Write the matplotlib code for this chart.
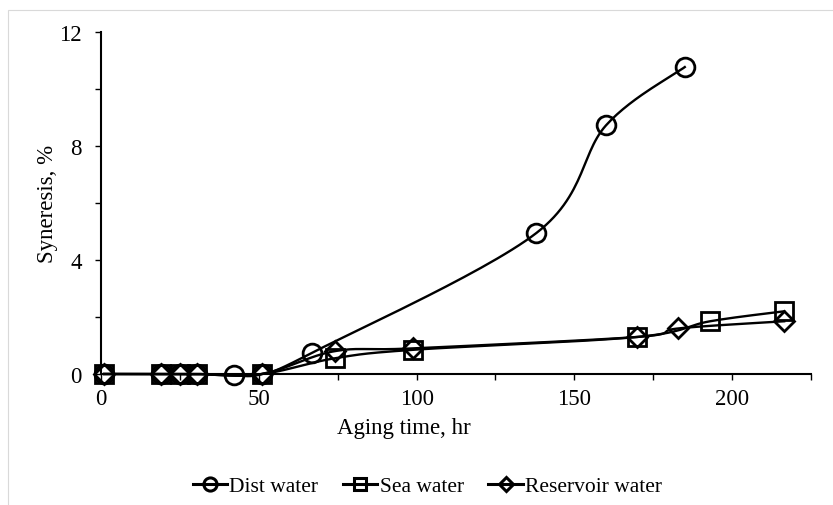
import numpy as np
import matplotlib
matplotlib.use("Agg")
import matplotlib.pyplot as plt
from matplotlib.patches import Rectangle
from matplotlib.lines import Line2D

plt.rcParams['font.family'] = ['Liberation Serif', 'DejaVu Serif']

# aging time (hr) and syneresis (%)
dist_t = [1, 19, 25, 30.5, 42, 51, 67, 138, 160, 185]
dist_s = [0, 0, 0, 0, -0.05, 0, 0.75, 4.95, 8.72, 10.77]

sea_t = [1, 19, 25, 30.5, 51, 74, 99, 170, 193, 216.5]
sea_s = [0, 0, 0, 0, 0, 0.55, 0.85, 1.3, 1.85, 2.2]

res_t = [1, 19, 25, 30.5, 51, 74, 99, 170, 183, 216.5]
res_s = [0, 0, 0, 0, 0, 0.8, 0.9, 1.3, 1.6, 1.85]

labels = ['Dist water', 'Sea water', 'Reservoir water']


def smooth(x, y, n=30):
    # Excel-like smoothed line: cubic bezier with catmull-rom control points
    x = np.asarray(x, float)
    y = np.asarray(y, float)
    xs, ys = [], []
    m = len(x)
    for i in range(m - 1):
        p0 = np.array([x[max(i - 1, 0)], y[max(i - 1, 0)]])
        p1 = np.array([x[i], y[i]])
        p2 = np.array([x[i + 1], y[i + 1]])
        p3 = np.array([x[min(i + 2, m - 1)], y[min(i + 2, m - 1)]])
        c1 = p1 + (p2 - p0) / 6
        c2 = p2 - (p3 - p1) / 6
        t = np.linspace(0, 1, n)[:, None]
        b = ((1 - t) ** 3) * p1 + 3 * ((1 - t) ** 2) * t * c1 + 3 * (1 - t) * t ** 2 * c2 + t ** 3 * p2
        xs.extend(b[:, 0])
        ys.extend(b[:, 1])
    return xs, ys


fig = plt.figure(figsize=(8.33, 5.06), dpi=100)
ax = fig.add_axes([101 / 833, 131 / 506, 710 / 833, 342 / 506])

fig.patches.append(Rectangle((8 / 833, -0.1), 1.2, (506 - 11) / 506 + 0.1,
                             transform=fig.transFigure, fill=False,
                             edgecolor='#d9d9d9', lw=0.8))

series = [(dist_t, dist_s, 'o', 13.5), (sea_t, sea_s, 's', 12.5), (res_t, res_s, 'D', 10)]
handles = []
for (t, s, mk, ms), lab in zip(series, labels):
    sx, sy = smooth(t, s)
    ax.plot(sx, sy, color='black', lw=1.7, clip_on=False)
    ax.plot(t, s, linestyle='none', marker=mk, ms=ms, mfc='none', mec='black',
            mew=2.0, clip_on=False)
    handles.append(Line2D([], [], color='black', lw=2.2, marker=mk, ms=ms * 0.7,
                          mfc='none', mec='black', mew=2.2, label=lab))

ax.set_xlim(0, 225)
ax.set_ylim(0, 12)
ax.set_xticks(np.arange(0, 226, 25), minor=True)
ax.set_xticks([0, 50, 100, 150, 200])
ax.set_yticks(np.arange(0, 12.1, 2), minor=True)
ax.set_yticks([0, 4, 8, 12])

for side in ['top', 'right']:
    ax.spines[side].set_visible(False)
for side in ['left', 'bottom']:
    ax.spines[side].set_linewidth(1.5)

ax.tick_params(which='both', direction='out', length=4, width=1, labelsize=16.5,
               colors='black')
ax.tick_params(axis='y', pad=10)
ax.tick_params(axis='x', pad=6)

ax.set_xlabel('Aging time, hr', fontsize=16.5)
ax.set_ylabel('Syneresis, %', fontsize=16.5)
ax.xaxis.set_label_coords(0.427, -0.125)
ax.yaxis.set_label_coords(-0.061, 0.5)

fig.legend(handles=handles, loc='center', bbox_to_anchor=(0.513, 0.037), ncol=3,
           frameon=False, fontsize=15.5, handlelength=1.6, handletextpad=0.1,
           columnspacing=1.15)

fig.savefig('out.png', dpi=100)
